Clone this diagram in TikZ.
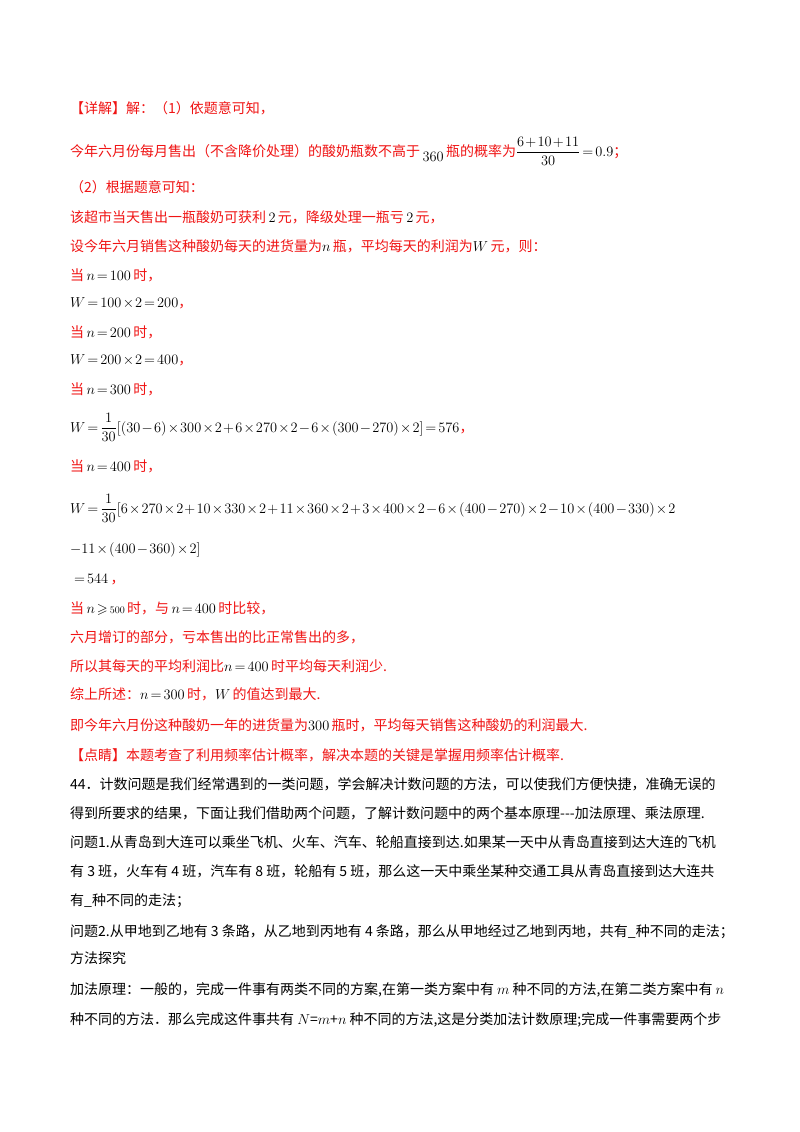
\documentclass[tikz,border=0pt]{standalone}
\usepackage{amsmath,amssymb}
\usepackage{fontspec}
\setmainfont{Noto Sans CJK SC}
\definecolor{rd}{RGB}{240,20,20}
\newcommand{\R}[1]{\textcolor{rd}{#1}}
\medmuskip=1.5mu plus 1mu
\thickmuskip=2.5mu plus 1mu
\begin{document}
\begin{tikzpicture}[x=1pt,y=-1pt,every node/.style={anchor=base west,inner sep=0,font=\fontsize{14}{16}\selectfont},red/.style={text=rd}]
\useasboundingbox[fill=white] (0,0) rectangle (800,1132);
\node[red] (l1) at (70,113) {【详解】解：（1）依题意可知，};
\node[red] (l2) at (70,156) {今年六月份每月售出（不含降价处理）的酸奶瓶数不高于\,\textcolor{black}{$\raisebox{-5pt}{$360$}$}\,瓶的概率为\textcolor{black}{$\dfrac{6+10+11}{30}=0.9$}；};
\node[red] (l3) at (70,192) {（2）根据题意可知：};
\node[red] (l4) at (70,222) {该超市当天售出一瓶酸奶可获利\,\textcolor{black}{$2$}\,元，降级处理一瓶亏\,\textcolor{black}{$2$}\,元，};
\node[red] (l5) at (70,251) {设今年六月销售这种酸奶每天的进货量为\textcolor{black}{$n$}\,瓶，平均每天的利润为\textcolor{black}{$W$}\,元，则：};
\node[red] (l6) at (70,280) {当\,\textcolor{black}{$n=100$}\,时，};
\node (l7) at (70,307) {$W=100\times2=200$\R{，}};
\node[red] (l8) at (70,337) {当\,\textcolor{black}{$n=200$}\,时，};
\node (l9) at (70,364) {$W=200\times2=400$\R{，}};
\node[red] (l10) at (70,394) {当\,\textcolor{black}{$n=300$}\,时，};
\node (l11) at (70,432) {$W=\dfrac{1}{30}[(30-6)\times300\times2+6\times270\times2-6\times(300-270)\times2]=576$\R{，}};
\node[red] (l12) at (70,471) {当\,\textcolor{black}{$n=400$}\,时，};
\node (l13) at (70,513) {$W=\dfrac{1}{30}[6\times270\times2+10\times330\times2+11\times360\times2+3\times400\times2-6\times(400-270)\times2-10\times(400-330)\times2$};
\node (l14) at (70,553) {$-11\times(400-360)\times2]$};
\node (l15) at (74,583) {$=544$\,\R{，}};
\node[red] (l16) at (70,613) {当\,\textcolor{black}{$n\geqslant{\scriptstyle500}$}\,时，与\,\textcolor{black}{$n=400$}\,时比较，};
\node[red] (l17) at (70,642) {六月增订的部分，亏本售出的比正常售出的多，};
\node[red] (l18) at (70,671) {所以其每天的平均利润比\textcolor{black}{$n=400$}\,时平均每天利润少.};
\node[red] (l19) at (70,699) {综上所述：\textcolor{black}{$n=300$}\,时，\textcolor{black}{$W$}\,的值达到最大.};
\node[red] (l20) at (70,730) {即今年六月份这种酸奶一年的进货量为\textcolor{black}{$300$}\,瓶时，平均每天销售这种酸奶的利润最大.};
\node[red] (l21) at (70,760) {【点睛】本题考查了利用频率估计概率，解决本题的关键是掌握用频率估计概率.};
\node (l22) at (70,789) {44．计数问题是我们经常遇到的一类问题，学会解决计数问题的方法，可以使我们方便快捷，准确无误的};
\node (l23) at (70,818) {得到所要求的结果，下面让我们借助两个问题，了解计数问题中的两个基本原理{-}{-}{-}加法原理、乘法原理.};
\node (l24) at (70,847) {问题1.从青岛到大连可以乘坐飞机、火车、汽车、轮船直接到达.如果某一天中从青岛直接到达大连的飞机};
\node (l25) at (70,876) {有 3 班，火车有 4 班，汽车有 8 班，轮船有 5 班，那么这一天中乘坐某种交通工具从青岛直接到达大连共};
\node (l26) at (70,905) {有\_种不同的走法；};
\node (l27) at (70,936) {问题2.从甲地到乙地有 3 条路，从乙地到丙地有 4 条路，那么从甲地经过乙地到丙地，共有\_种不同的走法；};
\node (l28) at (70,963) {方法探究};
\node (l29) at (70,994) {加法原理：一般的，完成一件事有两类不同的方案,在第一类方案中有 $m$ 种不同的方法,在第二类方案中有 $n$};
\node (l30) at (70,1024) {种不同的方法．那么完成这件事共有 $N$=$m$+$n$ 种不同的方法,这是分类加法计数原理;完成一件事需要两个步};
\end{tikzpicture}
\end{document}
